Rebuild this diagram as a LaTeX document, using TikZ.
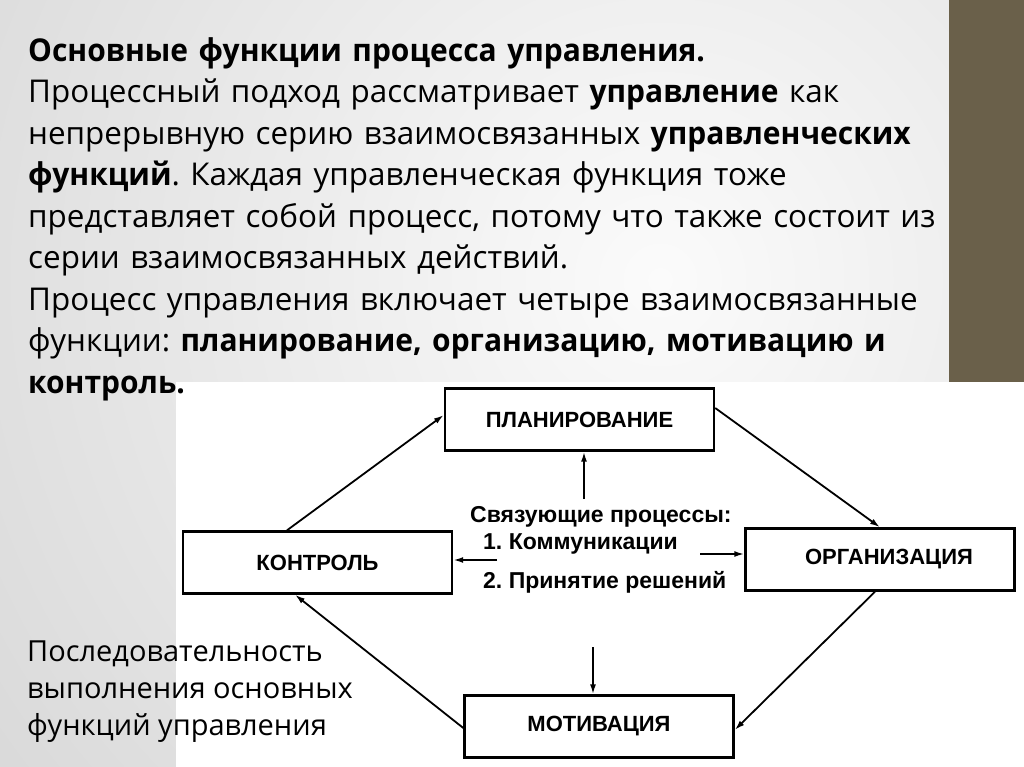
\documentclass[tikz,border=0pt]{standalone}
\usepackage{fontspec}
\setmainfont{Open Sans}[BoldFeatures={FakeStretch=0.955}]
\newfontfamily\diagfont{Liberation Sans}
\usetikzlibrary{arrows.meta,positioning,calc}
\definecolor{slidebar}{HTML}{6A604A}
\definecolor{slideedge}{HTML}{C6C6C6}
\definecolor{slidelight}{HTML}{FBFBFB}
\frenchspacing

\begin{document}
\begin{tikzpicture}[x=1pt,y=-1pt,
  funcbox/.style={draw,line width=2.4pt,minimum width=269pt,minimum height=62pt,
    inner sep=0pt,font=\diagfont\bfseries\fontsize{22}{24}\selectfont},
  midtext/.style={anchor=base west,inner sep=0pt,
    font=\diagfont\bfseries\fontsize{23}{26}\selectfont},
  link/.style={line width=1.8pt,-{Latex[length=10pt,width=6pt]}}]
  \useasboundingbox (0,0) rectangle (1024,767);
  % slide background
  \begin{scope}
    \clip (0,0) rectangle (949,767);
    \fill[inner color=slidelight,outer color=slideedge] (660,280) circle (1300);
  \end{scope}
  \fill[slidebar] (949,0) rectangle (1024,382);
  \fill[white] (176,382) rectangle (1024,767);

  % slide text
  \node[anchor=north west,inner sep=0pt,text width=1000pt,align=left,
        font=\fontsize{31.4}{41.5}\selectfont] (intro) at (28,37)
    {\textbf{Основные функции процесса управления.}\\
     Процессный подход рассматривает \textbf{управление} как\\
     непрерывную серию взаимосвязанных \textbf{управленческих}\\
     \textbf{функций}. Каждая управленческая функция тоже\\
     представляет собой процесс, потому что также состоит из\\
     серии взаимосвязанных действий.\\
     Процесс управления включает четыре взаимосвязанные\\
     функции: \textbf{планирование, организацию, мотивацию и}\\
     \textbf{контроль.}};
  \node[anchor=north west,inner sep=0pt,align=left,
        font=\fontsize{29}{37}\selectfont] (seq) at (27,641)
    {Последовательность\\выполнения основных\\функций управления};

  % the four functions
  \node[funcbox] (plan) at (579.5,419.5) {ПЛАНИРОВАНИЕ};
  \node[funcbox] (org) at (880,559.5) {\hspace*{18pt}ОРГАНИЗАЦИЯ};
  \node[funcbox] (ctrl) at (317.5,562.5) {КОНТРОЛЬ};
  \node[funcbox] (motiv) at (599,726.5) {МОТИВАЦИЯ};

  % linking processes
  \node[midtext] (links) at (470,522) {Связующие процессы:};
  \node[midtext] (comm) at (483,549) {1. Коммуникации};
  \node[midtext] (dec) at (483,588) {2. Принятие решений};
  \coordinate (linksup) at (584,499);
  \coordinate (linksdown) at (593,647);
  \coordinate (linksleft) at (497,560);
  \coordinate (linksright) at (700,554);

  \draw[link] ([xshift=-30.5pt]ctrl.north) -- ([yshift=4.5pt]plan.west);
  \draw[link] ([yshift=11.5pt]plan.east) -- (org.north);
  \draw[link] ([xshift=-5pt]org.south) -- ([yshift=-3.5pt]motiv.east);
  \draw[link] ([yshift=-1.5pt]motiv.west) -- ([xshift=-22.5pt]ctrl.south);
  \draw[link] (linksup) -- (linksup |- plan.south);
  \draw[link] (linksdown) -- (linksdown |- motiv.north);
  \draw[link] (linksleft) -- (linksleft -| ctrl.east);
  \draw[link] (linksright) -- (linksright -| org.west);
\end{tikzpicture}
\end{document}
